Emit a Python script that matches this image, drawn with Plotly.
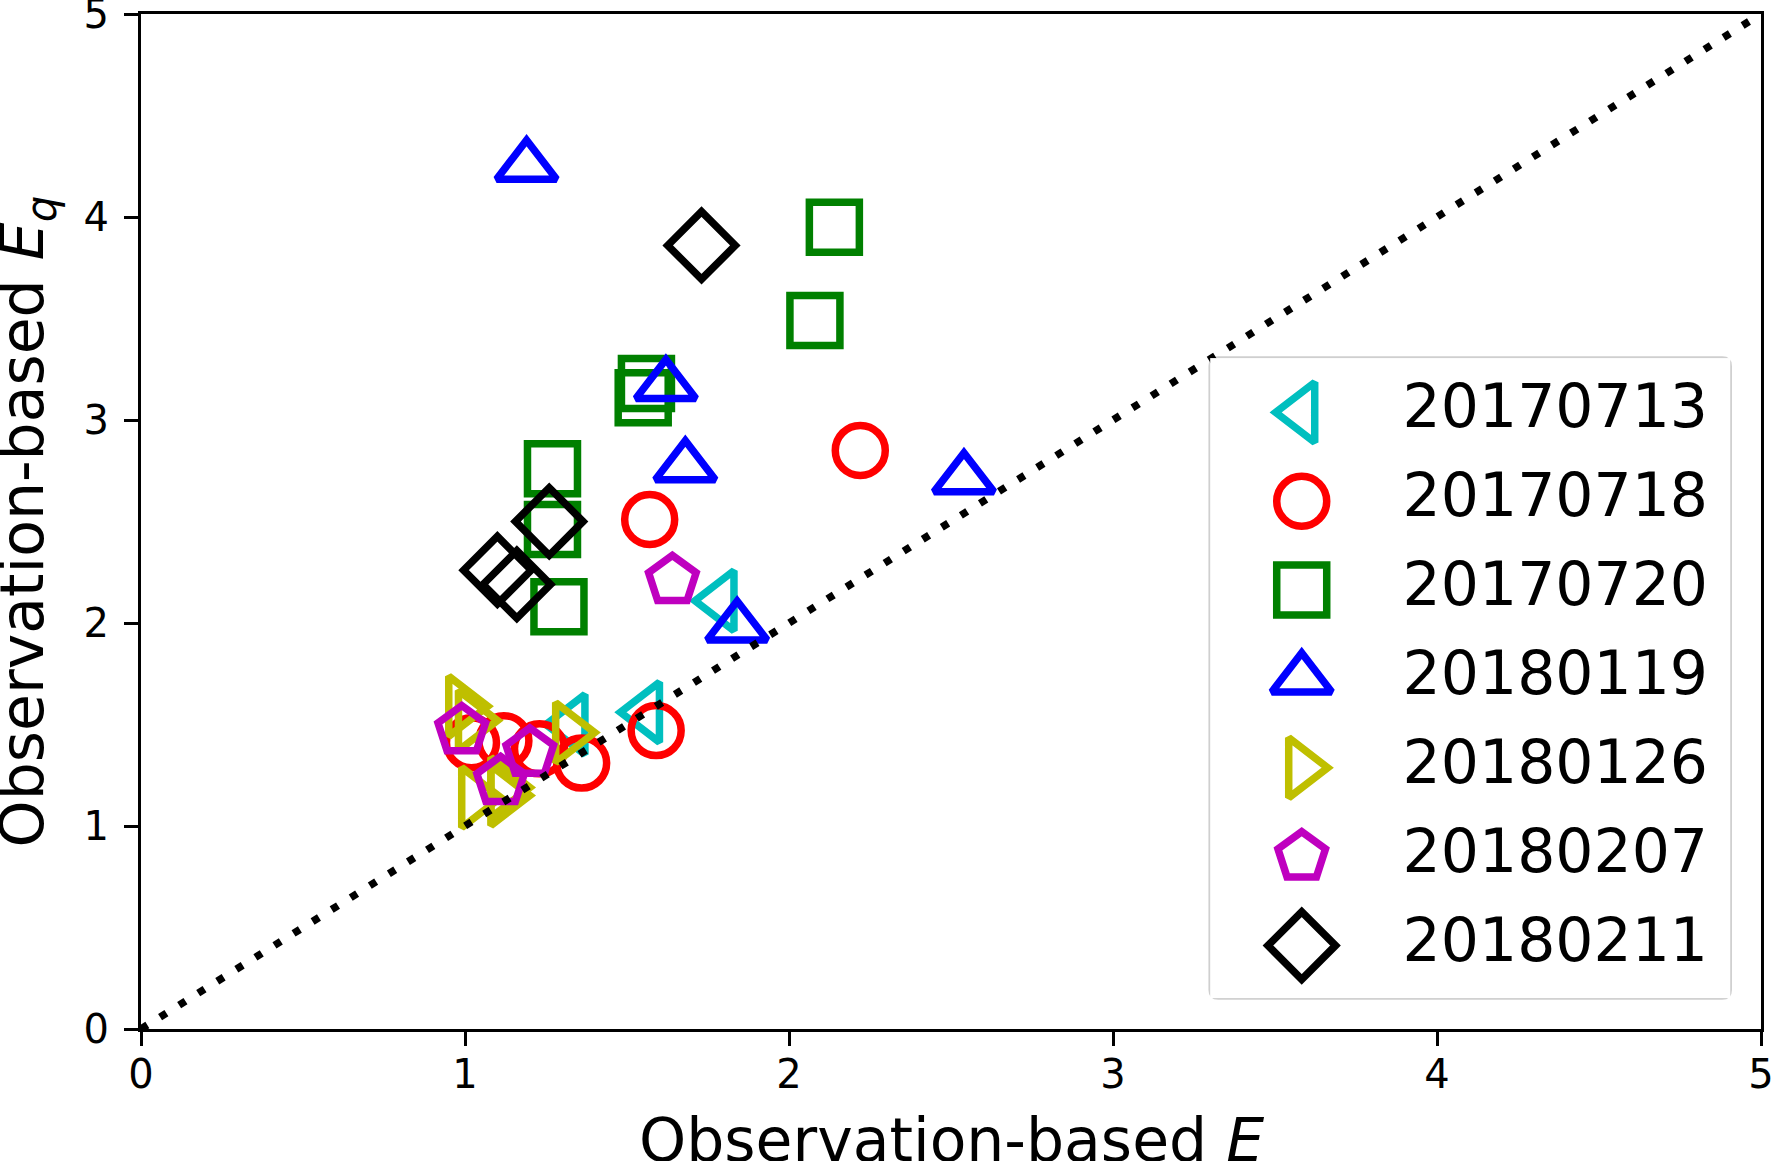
import plotly.graph_objects as go

# Series (legend order) and their readings: observation-based E vs Eq
dates = ["20170713", "20170718", "20170720", "20180119", "20180126", "20180207", "20180211"]

e_20170713 = [1.33, 1.56, 1.79]
eq_20170713 = [1.50, 1.56, 2.11]

e_20170718 = [1.02, 1.12, 1.23, 1.36, 1.59, 1.57, 2.22]
eq_20170718 = [1.41, 1.42, 1.38, 1.31, 1.47, 2.51, 2.85]

e_20170720 = [2.14, 2.08, 1.56, 1.55, 1.27, 1.27, 1.29]
eq_20170720 = [3.95, 3.49, 3.18, 3.11, 2.76, 2.46, 2.08]

e_20180119 = [1.19, 1.62, 1.68, 2.54, 1.84]
eq_20180119 = [4.25, 3.17, 2.77, 2.71, 1.98]

e_20180126 = [0.99, 1.02, 1.32, 1.03, 1.12, 1.12]
eq_20180126 = [1.59, 1.52, 1.46, 1.14, 1.15, 1.19]

e_20180207 = [0.99, 1.20, 1.11, 1.64]
eq_20180207 = [1.47, 1.36, 1.22, 2.21]

e_20180211 = [1.73, 1.26, 1.10, 1.16]
eq_20180211 = [3.86, 2.50, 2.26, 2.19]

diag = [0, 5]

xs = [e_20170713, e_20170718, e_20170720, e_20180119, e_20180126, e_20180207, e_20180211]
ys = [eq_20170713, eq_20170718, eq_20170720, eq_20180119, eq_20180126, eq_20180207, eq_20180211]

colors = ["#00BFBF", "#FF0000", "#008000", "#0000FF", "#BFBF00", "#BF00BF", "#000000"]
symbols = ["triangle-left-open", "circle-open", "square-open", "triangle-up-open",
           "triangle-right-open", "pentagon-open", "diamond-open"]
sizes = [52, 50, 50, 52, 52, 50, 52]

FONT = "DejaVu Sans"

fig = go.Figure()

for name, x, y, c, s, sz in zip(dates, xs, ys, colors, symbols, sizes):
    fig.add_trace(go.Scatter(
        x=x, y=y, mode="markers", name=name, showlegend=False,
        marker=dict(symbol=s, size=sz, color=c, line=dict(width=7.5, color=c)),
    ))

# 1:1 line
fig.add_trace(go.Scatter(
    x=diag, y=diag, mode="lines", showlegend=False,
    line=dict(color="black", width=7.5, dash="7.5px,15px"),
))

# hand-built legend in its own small axes so the symbols keep full size
for name, c, s, sz in zip(dates, colors, symbols, sizes):
    fig.add_trace(go.Scatter(
        x=[0.176], y=[name], mode="markers", showlegend=False,
        xaxis="x2", yaxis="y2",
        marker=dict(symbol=s, size=sz, color=c, line=dict(width=7.5, color=c)),
    ))
fig.add_trace(go.Scatter(
    x=[0.37] * len(dates), y=dates, mode="text", text=dates,
    textposition="middle right", showlegend=False, xaxis="x2", yaxis="y2",
    textfont=dict(size=60, color="black", family=FONT),
))

# legend frame with rounded corners
x0, x1, y0, y1 = 0.660, 0.981, 0.0305, 0.661
rx, ry = 0.005, 0.008
frame = (f"M {x0+rx},{y0} L {x1-rx},{y0} Q {x1},{y0} {x1},{y0+ry} "
         f"L {x1},{y1-ry} Q {x1},{y1} {x1-rx},{y1} L {x0+rx},{y1} "
         f"Q {x0},{y1} {x0},{y1-ry} L {x0},{y0+ry} Q {x0},{y0} {x0+rx},{y0} Z")
fig.add_shape(type="path", path=frame, xref="paper", yref="paper",
              line=dict(color="#cfcfcf", width=3.5), fillcolor="white", layer="below")

# axis titles placed as annotations so their distance from the axes can be set exactly
fig.add_annotation(text="Observation-based <i>E</i>", xref="paper", yref="paper",
                   x=0.5, y=-0.1094, xanchor="center", yanchor="middle", showarrow=False,
                   font=dict(size=60, family=FONT, color="black"))
fig.add_annotation(text="Observation-based <i>E</i><sub><i>q</i></sub>", xref="paper", yref="paper",
                   x=-0.0704, y=0.5, xanchor="center", yanchor="middle", showarrow=False,
                   textangle=-90, font=dict(size=60, family=FONT, color="black"))

axis_style = dict(
    range=[0, 5], dtick=1, showgrid=False, zeroline=False,
    showline=True, mirror=True, linecolor="black", linewidth=3.3,
    ticks="outside", ticklen=14, tickwidth=3, tickcolor="black",
    ticklabeloverflow="allow", automargin=False,
    tickfont=dict(size=40, family=FONT, color="black"),
)

fig.update_layout(
    width=1771, height=1161,
    margin=dict(l=141, r=10, t=14, b=132, autoexpand=False),
    paper_bgcolor="white", plot_bgcolor="white",
    font=dict(family=FONT, color="black"),
    showlegend=False,
    xaxis=dict(**axis_style, ticklabelstandoff=-6),
    yaxis=dict(**axis_style, ticklabelstandoff=7),
    xaxis2=dict(domain=[0.660, 0.981], anchor="y2", range=[0, 1], visible=False),
    yaxis2=dict(domain=[0.0305, 0.661], anchor="x2", type="category",
                categoryorder="array", categoryarray=dates,
                range=[6.591, -0.611], visible=False),
)

# drop the page's default body margin so the figure fills the window exactly
fig.write_html("out.html", config={"displayModeBar": False},
               post_script="document.body.style.margin='0';")
